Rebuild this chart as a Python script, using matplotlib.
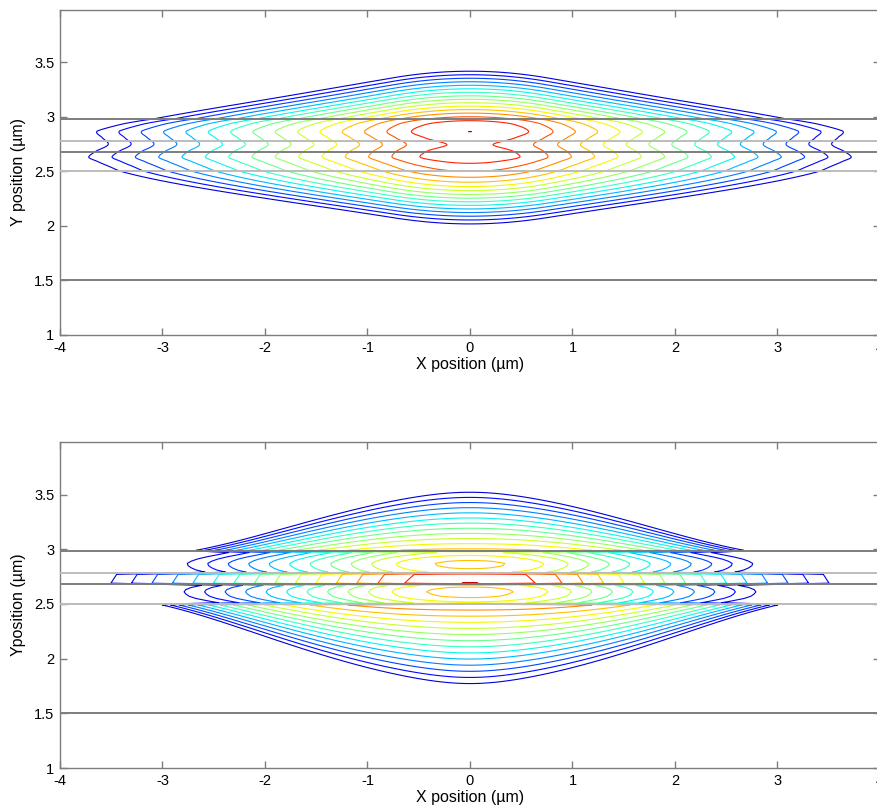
import numpy as np
import matplotlib
matplotlib.use("Agg")
import matplotlib.pyplot as plt

# ---------------- data ----------------
x_ticks = [-4, -3, -2, -1, 0, 1, 2, 3, 4]
y_ticks = [1, 1.5, 2, 2.5, 3, 3.5]
x_label = "X position (\u00b5m)"
y_label_top = "Y position (\u00b5m)"
y_label_bot = "Yposition (\u00b5m)"

# layer interfaces (um) and their line shades
interfaces = [2.98, 2.78, 2.68, 2.50, 1.50]
interface_shades = ["#7d7d7d", "#bcbcbc", "#7d7d7d", "#bcbcbc", "#7d7d7d"]

n_levels = 16
contour_levels = list(range(1, n_levels + 1))

# top panel: vertical profile of the field at x=0 (in contour-level units)
top_y = [1.00, 2.02, 2.50, 2.545, 2.59, 2.635, 2.68, 2.745, 2.81, 2.865, 2.93, 2.965, 2.98, 3.20, 3.42, 4.00]
top_L = [-26.5, 1.04, 14.0, 14.6, 15.2, 15.7, 15.55, 15.15, 15.6, 16.0006, 15.6, 15.0, 14.6, 7.78, 0.96, -17.0]
# lateral distance per contour level along the profile
top_s_y = [1.00, 2.50, 2.635, 2.745, 2.87, 2.98, 4.00]
top_s = [0.233, 0.233, 0.2275, 0.223, 0.2175, 0.200, 0.200]
top_core_halfwidth = 0.75

# bottom panel, guided layers: (y_low, y_high, knot y, knot level, lateral step)
bot_guided = [
    (2.50, 2.68, [2.50, 2.57, 2.615, 2.65, 2.68], [10.5, 12.2, 12.45, 12.1, 11.3], 0.200),
    (2.68, 2.78, [2.68, 2.78], [16.05, 15.7], 0.200),
    (2.78, 2.98, [2.78, 2.82, 2.865, 2.91, 2.95, 2.98], [11.2, 12.0, 12.3, 11.8, 10.8, 10.0], 0.200),
]
bot_core_halfwidth = 1.0
# bottom panel, claddings: (interface y, direction, level at x=0, outer edge x,
#                           level spacing at x=0, lateral exponent, fan length)
bot_cladding = [
    (2.98, +1, 12.5, 2.73, 0.047, 2.7, 3.3),
    (2.50, -1, 14.0, 3.05, 0.056, 3.0, 3.6),
]


# ---------------- helpers ----------------
def pchip(xk, yk, x):
    xk = np.asarray(xk, float)
    yk = np.asarray(yk, float)
    x = np.asarray(x, float)
    if len(xk) == 2:
        return np.interp(x, xk, yk)
    h = np.diff(xk)
    d = np.diff(yk) / h
    m = np.zeros_like(yk)
    for k in range(1, len(xk) - 1):
        if d[k - 1] * d[k] <= 0:
            m[k] = 0.0
        else:
            w1 = 2 * h[k] + h[k - 1]
            w2 = h[k] + 2 * h[k - 1]
            m[k] = (w1 + w2) / (w1 / d[k - 1] + w2 / d[k])
    m[0] = d[0]
    m[-1] = d[-1]
    idx = np.clip(np.searchsorted(xk, x) - 1, 0, len(xk) - 2)
    t = (x - xk[idx]) / h[idx]
    h00 = 2 * t**3 - 3 * t**2 + 1
    h10 = t**3 - 2 * t**2 + t
    h01 = -2 * t**3 + 3 * t**2
    h11 = t**3 - t**2
    return h00 * yk[idx] + h10 * h[idx] * m[idx] + h01 * yk[idx + 1] + h11 * h[idx] * m[idx + 1]


def lateral(x, c):
    ax = np.abs(x)
    return np.where(ax < c, ax**2 / (2 * c), ax - c / 2)


cmap = plt.get_cmap("jet")
level_colors = [cmap(0.08 + (k - 1) / (n_levels - 1) * 0.85) for k in contour_levels]

# ---------------- fields ----------------
xg = np.linspace(-4, 4, 801)
yg_top = np.linspace(1.0, 4.0, 601)
X1, Y1 = np.meshgrid(xg, yg_top)
G1 = pchip(top_y, top_L, yg_top)[:, None]
S1 = np.interp(yg_top, top_s_y, top_s)[:, None]
F1 = G1 - lateral(X1, top_core_halfwidth) / S1

yg_bot = np.arange(1.0, 4.0, 0.02) + 0.01
X2, Y2 = np.meshgrid(xg, yg_bot)
F2 = np.full(X2.shape, -50.0)
for ylo, yhi, ky, kl, s in bot_guided:
    sel = (yg_bot >= ylo) & (yg_bot < yhi)
    g = pchip(ky, kl, yg_bot[sel])[:, None]
    F2[sel] = g - lateral(X2[sel], bot_core_halfwidth) / s
for y0, sgn, k0, xe, dlt, p, x0 in bot_cladding:
    sel = (sgn * (yg_bot - y0)) > 0
    xa = np.abs(X2[sel])
    dist = sgn * (Y2[sel] - y0)
    w = np.maximum(1.0 - (np.sqrt(xa**2 + 0.25) - 0.5) / x0, 0.03)
    v = (k0 - 1.0) * (xa / xe) ** p
    F2[sel] = k0 - dist / (dlt * w) - v

# ---------------- figure ----------------
plt.rcParams["font.family"] = ["Liberation Sans", "DejaVu Sans"]
fig = plt.figure(figsize=(8.77, 8.07), dpi=100)
ax_top = fig.add_axes([0.0684, 0.5849, 0.9350, 0.4027])
ax_bot = fig.add_axes([0.0684, 0.0483, 0.9350, 0.4040])

panels = [(ax_top, X1, Y1, F1, y_label_top), (ax_bot, X2, Y2, F2, y_label_bot)]
for ax, X, Y, F, ylab in panels:
    ax.contour(X, Y, F, levels=contour_levels, colors=level_colors, linewidths=0.8, zorder=2)
    for yi, col in zip(interfaces, interface_shades):
        ax.axhline(yi, color=col, lw=1.4, zorder=3)
    ax.set_xlim(-4, 4)
    ax.set_ylim(1, 3.98)
    ax.set_xticks(x_ticks)
    ax.set_yticks(y_ticks)
    ax.set_xticklabels([f"{v:g}" for v in x_ticks])
    ax.set_yticklabels([f"{v:g}" for v in y_ticks])
    ax.tick_params(direction="in", length=5, color="#7d7d7d", width=1.0,
                   top=True, right=True, labelsize=10.5, pad=4)
    for sp in ax.spines.values():
        sp.set_color("#7d7d7d")
        sp.set_linewidth(1.0)
    ax.set_xlabel(x_label, fontsize=11.5, labelpad=2)
    ax.set_ylabel(ylab, fontsize=11.5, labelpad=6)

fig.savefig("out.png", dpi=100)
